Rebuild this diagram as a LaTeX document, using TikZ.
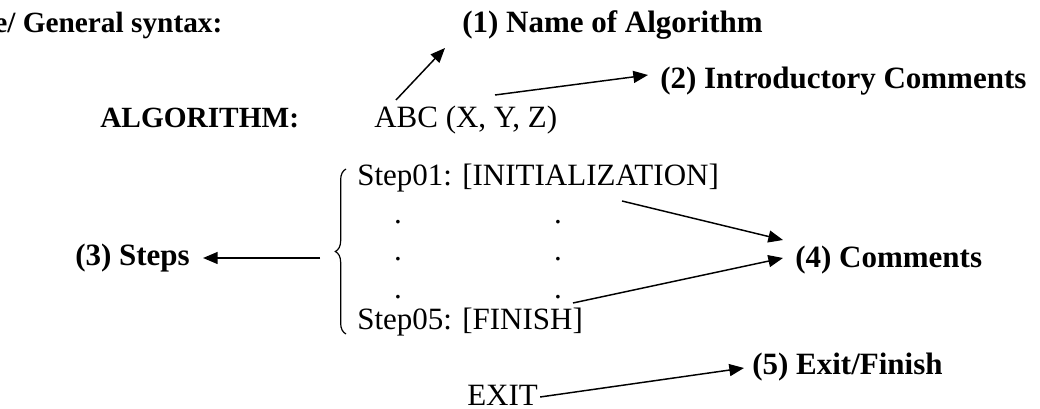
\documentclass[tikz,border=0pt]{standalone}
\usepackage{fontspec}
\setmainfont{Liberation Serif}
\usetikzlibrary{arrows.meta,decorations.pathreplacing,calc}

\tikzset{
  txt/.style={font=\fontsize{23.25}{27}\selectfont, inner sep=0pt, anchor=base west},
  lbl/.style={txt, font=\bfseries\fontsize{23.25}{27}\selectfont},
  headlbl/.style={txt, font=\bfseries\fontsize{22}{26}\selectfont},
  dotmark/.style={font=\fontsize{23.25}{27}\selectfont, inner sep=0pt, anchor=base},
  arr/.style={-{Triangle[length=11pt,width=9pt]}, line width=1.1pt},
  bracestyle/.style={decorate, decoration={brace, amplitude=8pt}, line width=0.9pt},
}

\begin{document}
\begin{tikzpicture}[x=0.75pt, y=-0.75pt]
  \useasboundingbox (0,0) rectangle (1040,409);

  % headings and labels
  \node[headlbl] (gen) at (-6,33)   {e/ General syntax:};
  \node[lbl] (name)    at (462,33)  {(1) Name of Algorithm};
  \node[headlbl] (alg) at (100,128) {ALGORITHM:};
  \node[txt] (abc)     at (374,128) {ABC (X, Y, Z)};
  \node[lbl] (intro)   at (660,89)  {(2) Introductory Comments};

  % the steps block
  \node[txt] (s1) at (357,186) {Step01: [INITIALIZATION]};
  \node[dotmark] (d11) at (398,224) {.};
  \node[dotmark] (d12) at (558,224) {.};
  \node[dotmark] (d21) at (398,261) {.};
  \node[dotmark] (d22) at (558,261) {.};
  \node[dotmark] (d31) at (398,299) {.};
  \node[dotmark] (d32) at (558,299) {.};
  \node[txt] (s5) at (357,330) {Step05: [FINISH]};

  \node[lbl] (steps) at (75,266)  {(3) Steps};
  \node[lbl] (comm)  at (795,268) {(4) Comments};
  \node[txt] (exit)  at (467,406) {EXIT};
  \node[lbl] (fin)   at (752,375) {(5) Exit/Finish};

  % brace grouping the steps
  \draw[bracestyle] (346,334) -- (346,169);
  \coordinate (bt) at (320,258);

  % connectors
  \draw[arr] ($(abc.base west)+(22,-28)$) -- ($(name.base west)+(-17,15)$);
  \draw[arr] ($(abc.base west)+(121,-33)$) -- ($(intro.base west)+(-12,-14)$);
  \draw[arr] (bt) -- ($(steps.base east)+(13,-8)$);
  \draw[arr] ($(s1.base west)+(265,15)$) -- ($(comm.base west)+(-12,-28)$);
  \draw[arr] ($(s5.base west)+(216,-27)$) -- ($(comm.base west)+(-12,-10)$);
  \draw[arr] ($(exit.base east)+(2,-9)$) -- ($(fin.base west)+(-8,-7)$);
\end{tikzpicture}
\end{document}
